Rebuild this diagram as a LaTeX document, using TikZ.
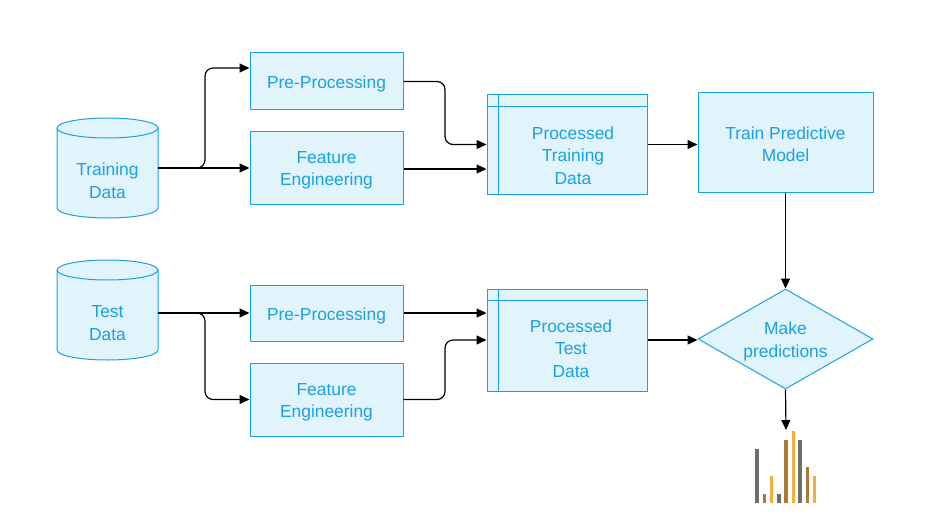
\documentclass[tikz,border=0pt]{standalone}
\usepackage{fontspec}
\setmainfont{Liberation Sans}
\usetikzlibrary{arrows.meta,shapes.geometric,calc}
\definecolor{bl}{HTML}{1BA1E2}
\definecolor{fl}{HTML}{E1F3FB}
\definecolor{bgray}{HTML}{6E6E6E}
\definecolor{bbrown}{HTML}{AD7A33}
\definecolor{borange}{HTML}{F2AE40}
\tikzset{
  box/.style={draw=bl,fill=fl,line width=1pt,inner sep=0pt},
  txt/.style={inner sep=0pt,text=bl,align=center,font=\fontsize{17.4}{22.5}\selectfont},
  ghost/.style={inner sep=0pt,draw=none},
  arr/.style={draw=black,line width=1.2pt,-{Triangle[length=10pt,width=9pt]},rounded corners=8pt},
  cylline/.style={draw=bl,fill=fl,line width=1pt},
}
\begin{document}
\begin{tikzpicture}[x=1pt,y=1pt]
\useasboundingbox (0,0) rectangle (941,-524);
% cylinders
\foreach \yt/\yb in {128/208, 270/350}{
  \path[cylline] (57,-\yt) -- (57,-\yb) arc[start angle=180,end angle=360,x radius=50.5pt,y radius=10pt]
     -- (158,-\yt) arc[start angle=0,end angle=180,x radius=50.5pt,y radius=10pt] -- cycle;
  \draw[draw=bl,line width=1pt] (57,-\yt) arc[start angle=180,end angle=360,x radius=50.5pt,y radius=10pt];
}
\node[ghost,minimum width=101pt,minimum height=100pt] (td) at (107.5,-168) {};
\node[txt] (tdt) at (107.5,-181) {Training\\Data};
\node[ghost,minimum width=101pt,minimum height=100pt] (tsd) at (107.5,-310) {};
\node[txt] (tsdt) at (107.5,-323) {Test\\Data};
% boxes
\node[box,minimum width=153pt,minimum height=57pt] (pp1) at (326.5,-81.5) {};
\node[txt] (pp1t) at (326.5,-84.5) {Pre-Processing};
\node[box,minimum width=153pt,minimum height=73pt] (fe1) at (326.5,-167.5) {};
\node[txt] (fe1t) at (326.5,-170.5) {Feature\\Engineering};
\node[box,minimum width=153pt,minimum height=56pt] (pp2) at (326.5,-313) {};
\node[txt] (pp2t) at (326.5,-316) {Pre-Processing};
\node[box,minimum width=153pt,minimum height=73pt] (fe2) at (326.5,-399.5) {};
\node[txt] (fe2t) at (326.5,-402.5) {Feature\\Engineering};
% processed data
\node[box,minimum width=160pt,minimum height=99pt] (ptd) at (567,-144.5) {};
\draw[draw=bl,line width=1pt] ($(ptd.north west)+(12,0)$) -- ($(ptd.south west)+(12,0)$);
\draw[draw=bl,line width=1pt] ($(ptd.north west)+(0,-12)$) -- ($(ptd.north east)+(0,-12)$);
\node[txt] (ptdt) at (573,-155.5) {Processed\\Training\\Data};
\node[box,minimum width=160pt,minimum height=102pt] (ptsd) at (567,-340) {};
\draw[draw=bl,line width=1pt] ($(ptsd.north west)+(12,0)$) -- ($(ptsd.south west)+(12,0)$);
\draw[draw=bl,line width=1pt] ($(ptsd.north west)+(0,-12)$) -- ($(ptsd.north east)+(0,-12)$);
\node[txt] (ptsdt) at (571,-348.5) {Processed\\Test\\Data};
% model
\node[box,minimum width=175pt,minimum height=99pt] (tpm) at (785.5,-142.5) {};
\node[txt] (tpmt) at (785.5,-144.5) {Train Predictive\\Model};
\node[box,diamond,minimum width=175pt,minimum height=100pt] (mp) at (785.5,-339) {};
\node[txt] (mpt) at (785.5,-341.5) {Make\\predictions};
\coordinate (chart) at (786,-430);
% connectors
\draw[arr] (td.east) -- (td.east -| fe1.west);
\draw[arr] (td.east) -- (205,-168) -- (205,-68) -- (pp1.west |- 205,-68);
\draw[arr] (pp1.east) -- (445,-81.5) -- (445,-144.5) -- (ptd.west);
\draw[arr] (fe1.east |- 0,-169) -- (ptd.west |- 0,-169);
\draw[arr] (ptd.east) -- (ptd.east -| tpm.west);
\draw[arr] (tpm.south) -- (mp.north);
\draw[arr] (tsd.east |- pp2.west) -- (pp2.west);
\draw[arr] (tsd.east |- pp2.west) -- (205,-313) -- (205,-399.5) -- (fe2.west);
\draw[arr] (pp2.east) -- (pp2.east -| ptsd.west);
\draw[arr] (fe2.east) -- (445,-399.5) -- (445,-340) -- (ptsd.west);
\draw[arr] (ptsd.east) -- (ptsd.east -| mp.west);
\draw[arr] (mp.south) -- (chart);
% bar chart
\foreach \x/\t/\c in {755/449/bgray, 762.5/494/bbrown, 769.5/476/borange, 777/494/bgray, 784/440/bbrown, 791.5/431/borange, 798/440/bgray, 805.5/467/bbrown, 812.5/476/borange}{
  \fill[\c] (\x,-503) rectangle (\x+3.6,-\t);
}
\end{tikzpicture}
\end{document}
